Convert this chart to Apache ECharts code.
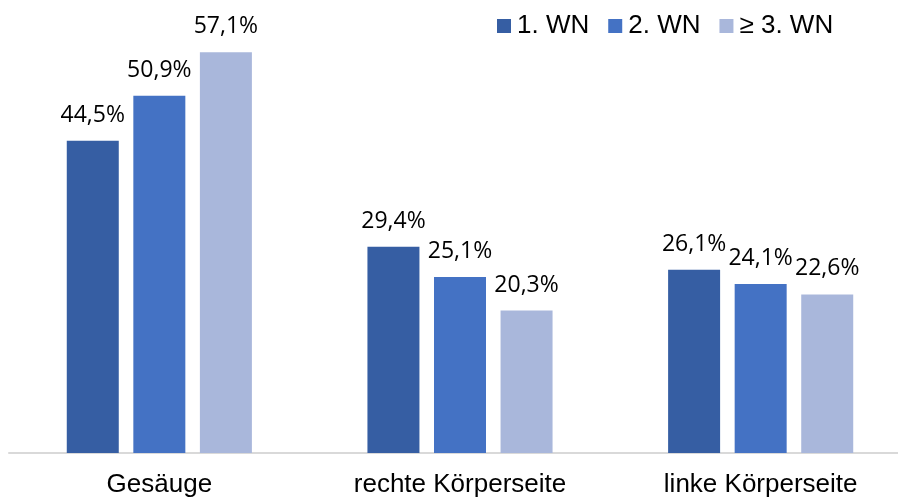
<!DOCTYPE html>
<html>
<head>
<meta charset="utf-8">
<script src="https://cdn.jsdelivr.net/npm/echarts@6/dist/echarts.min.js"></script>
<style>
  html, body { margin: 0; padding: 0; background: #fff; overflow: hidden; }
  #chart { width: 911px; height: 498px; }
</style>
</head>
<body>
<div id="chart"></div>
<script>
const categories = ['Gesäuge', 'rechte Körperseite', 'linke Körperseite'];
const seriesNames = ['1. WN', '2. WN', '≥ 3. WN'];
const wn1 = [44.5, 29.4, 26.1];
const wn2 = [50.9, 25.1, 24.1];
const wn3 = [57.1, 20.3, 22.6];
const colors = ['#365EA3', '#4472C4', '#A9B7DB'];

const chart = echarts.init(document.getElementById('chart'));

const mkSeries = (name, data, color) => ({
    name,
    type: 'bar',
    data,
    barWidth: 52,
    barGap: '28%',
    itemStyle: { color },
    label: {
        show: true,
        position: 'top',
        distance: 14,
        fontFamily: 'Open Sans',
        fontSize: 23,
        color: '#000',
        formatter: p => p.value.toFixed(1).replace('.', ',') + '%'
    }
});

chart.setOption({
    animation: false,
    legend: {
        left: 492,
        top: 8,
        itemWidth: 14,
        itemHeight: 14,
        itemGap: 19,
        icon: 'rect',
        textStyle: {
            fontFamily: 'Liberation Sans',
            fontSize: 26,
            color: '#000',
            padding: [0, 0, 0, 1]
        },
        data: seriesNames
    },
    grid: { left: 9, top: 32, right: 0, bottom: 45 },
    xAxis: {
        type: 'category',
        data: categories,
        axisLine: { lineStyle: { color: '#d9d9d9', width: 2 } },
        axisTick: { show: false },
        axisLabel: {
            fontFamily: 'Liberation Sans',
            fontSize: 26,
            color: '#000',
            margin: 19
        }
    },
    yAxis: {
        type: 'value',
        min: 0,
        max: 60,
        show: false,
        splitLine: { show: false }
    },
    series: [
        mkSeries(seriesNames[0], wn1, colors[0]),
        mkSeries(seriesNames[1], wn2, colors[1]),
        mkSeries(seriesNames[2], wn3, colors[2])
    ]
});
</script>
</body>
</html>
